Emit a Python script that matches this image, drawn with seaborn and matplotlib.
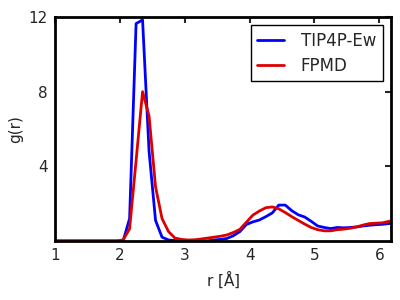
import numpy as np
import pandas as pd
import matplotlib
matplotlib.use("Agg")
import matplotlib.pyplot as plt
import seaborn as sns

# radial grid (bin centres, 0.1 A)
r = np.round(np.arange(0.95, 6.30, 0.1), 2)

g_tip4p = [0.0] * 11 + [
    0.0, 1.2, 11.65, 11.85, 4.8, 1.1, 0.2, 0.05, 0.02,          # 2.05 - 2.85
    0.0, 0.0, 0.0, 0.0, 0.0,                                     # 2.95 - 3.35
    0.05, 0.08, 0.13, 0.28, 0.5, 0.88,                           # 3.45 - 3.95
    1.02, 1.12, 1.3, 1.5, 1.92, 1.92, 1.62, 1.4, 1.28, 1.05,     # 4.05 - 4.95
    0.8, 0.72, 0.66, 0.72, 0.7, 0.72, 0.75, 0.8, 0.84, 0.87,     # 5.05 - 5.95
    0.89, 0.93, 0.97,                                            # 6.05 - 6.25
]
g_fpmd = [0.0] * 11 + [
    0.05, 0.65, 4.3, 8.0, 6.7, 2.9, 1.2, 0.5, 0.15,
    0.08, 0.05, 0.06, 0.1, 0.15,
    0.2, 0.25, 0.32, 0.45, 0.62, 1.0,
    1.38, 1.6, 1.78, 1.82, 1.72, 1.52, 1.3, 1.1, 0.9, 0.72,
    0.6, 0.54, 0.54, 0.6, 0.63, 0.68, 0.75, 0.85, 0.93, 0.95,
    0.97, 1.05, 1.1,
]
labels = ["TIP4P-Ew", "FPMD"]

df = pd.concat([
    pd.DataFrame({"r": r, "g": g_tip4p, "model": labels[0]}),
    pd.DataFrame({"r": r, "g": g_fpmd, "model": labels[1]}),
])

sns.set_style("white")
plt.rcParams["font.family"] = ["DejaVu Sans"]

fig = plt.figure(figsize=(4, 3), dpi=100)
ax = fig.add_axes([0.1375, 0.197, 0.84, 0.746])

sns.lineplot(data=df, x="r", y="g", hue="model",
             palette={"TIP4P-Ew": "#0000ff", "FPMD": "#dd0000"},
             linewidth=2, ax=ax)

ax.set_xlim(1, 6.18)
ax.set_ylim(0, 12)
ax.set_xticks([1, 2, 3, 4, 5, 6])
ax.set_yticks([4, 8, 12])
ax.set_xlabel(r"r [$\mathrm{\AA}$]", fontsize=11)
ax.set_ylabel("g(r)", fontsize=11)
ax.tick_params(direction="in", length=4, width=1.5, labelsize=11,
               top=True, right=True, pad=5)
for sp in ax.spines.values():
    sp.set_linewidth(2)
    sp.set_color("black")

leg = ax.legend(loc="upper right", fontsize=12, fancybox=False,
                framealpha=1, edgecolor="black", borderpad=0.4,
                handlelength=1.6, handletextpad=1.0, labelspacing=0.4,
                borderaxespad=0.5)
leg.get_frame().set_linewidth(1)

fig.savefig("out.png", dpi=100)
